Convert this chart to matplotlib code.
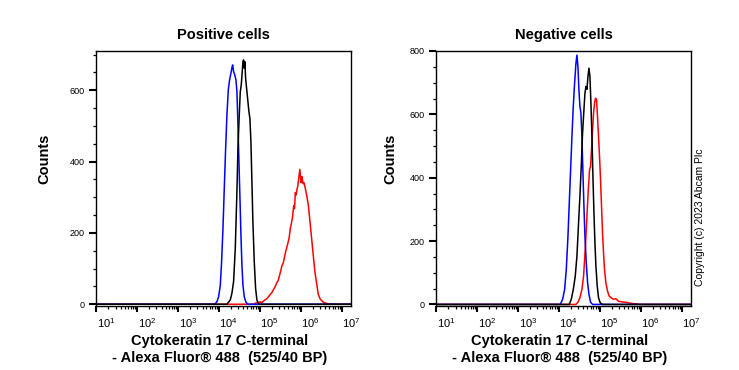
import numpy as np
import matplotlib
matplotlib.use("Agg")
import matplotlib.pyplot as plt
from matplotlib.ticker import MultipleLocator, FixedLocator, LogLocator, NullFormatter
from matplotlib.transforms import ScaledTranslation

plt.rcParams['font.family'] = ['Liberation Sans', 'DejaVu Sans']

# ---- data: histogram traces, x as log10(intensity), y as counts ----
# Positive cells
pos_blue_logx = [1.0, 3.90, 3.955, 3.996, 4.037, 4.069, 4.102, 4.134, 4.167, 4.199, 4.232,
                 4.264, 4.297, 4.321, 4.338, 4.362, 4.386, 4.419, 4.443, 4.468, 4.492,
                 4.517, 4.541, 4.565, 4.590, 4.622, 4.663, 4.703, 7.25]
pos_blue_counts = [0, 0, 7, 21, 54, 120, 213, 325, 437, 531, 601,
                   629, 648, 663, 671, 652, 645, 629, 596, 503, 400,
                   297, 194, 110, 54, 21, 6, 0, 0]

pos_black_logx = [1.0, 4.199, 4.281, 4.321, 4.362, 4.403, 4.443, 4.468, 4.500, 4.525, 4.549,
                  4.573, 4.590, 4.606, 4.622, 4.638, 4.655, 4.671, 4.703, 4.736, 4.760,
                  4.785, 4.809, 4.833, 4.866, 4.899, 4.931, 4.980, 7.25]
pos_black_counts = [0, 0, 12, 31, 64, 157, 316, 437, 531, 596, 615,
                    652, 680, 685, 662, 680, 634, 615, 578, 540, 521,
                    456, 344, 232, 120, 45, 12, 0, 0]

pos_red_logx = [1.0, 4.85, 4.90, 4.93, 4.97, 5.01, 5.05, 5.09, 5.13, 5.18, 5.22, 5.26, 5.30,
                5.34, 5.38, 5.42, 5.45, 5.48, 5.51, 5.54, 5.58, 5.61, 5.64, 5.66, 5.69,
                5.72, 5.75, 5.77, 5.80, 5.83, 5.85, 5.87, 5.89, 5.91, 5.93, 5.95, 5.98,
                6.00, 6.01, 6.03, 6.04, 6.06, 6.08, 6.11, 6.15, 6.19, 6.23, 6.27, 6.31,
                6.35, 6.40, 6.43, 6.48, 6.56, 6.64, 6.84, 7.25]
pos_red_counts = [0, 0, 3, 5, 2, 7, 4, 9, 12, 16, 22, 28, 33,
                  42, 50, 61, 66, 79, 92, 107, 118, 135, 150, 159, 172,
                  187, 215, 224, 243, 276, 268, 313, 306, 322, 331, 350, 378,
                  352, 341, 358, 350, 338, 341, 327, 304, 276, 229, 182, 135,
                  89, 51, 28, 14, 5, 2, 0, 0]

# Negative cells
neg_blue_logx = [1.0, 4.037, 4.093, 4.142, 4.183, 4.224, 4.256, 4.289, 4.321, 4.354, 4.386,
                 4.419, 4.443, 4.468, 4.492, 4.516, 4.541, 4.565, 4.590, 4.614, 4.639,
                 4.671, 4.704, 4.737, 4.776, 4.825, 7.25]
neg_blue_counts = [0, 0, 16, 47, 110, 215, 320, 425, 530, 625, 698,
                   761, 787, 750, 677, 625, 604, 530, 415, 310, 215,
                   131, 68, 32, 7, 0, 0]

neg_black_logx = [1.0, 4.256, 4.305, 4.354, 4.402, 4.443, 4.483, 4.516, 4.549, 4.581, 4.614,
                  4.639, 4.663, 4.688, 4.712, 4.737, 4.761, 4.785, 4.810, 4.834, 4.859,
                  4.883, 4.907, 4.939, 4.971, 5.012, 5.069, 7.25]
neg_black_counts = [0, 0, 16, 47, 89, 152, 257, 341, 436, 541, 614,
                    667, 688, 679, 719, 746, 719, 635, 530, 404, 289,
                    194, 121, 58, 21, 5, 0, 0]

neg_red_logx = [1.0, 4.419, 4.468, 4.516, 4.565, 4.605, 4.646, 4.688, 4.720, 4.752, 4.776,
                4.800, 4.825, 4.849, 4.873, 4.898, 4.922, 4.946, 4.971, 4.995, 5.020,
                5.044, 5.069, 5.093, 5.117, 5.151, 5.191, 5.232, 5.281, 5.337, 5.395,
                5.459, 5.541, 5.622, 5.703, 5.785, 5.866, 5.988, 7.25]
neg_red_counts = [0, 0, 7, 21, 47, 89, 173, 278, 362, 425, 436,
                  488, 551, 604, 635, 651, 646, 593, 530, 467, 394,
                  310, 226, 163, 110, 68, 42, 26, 21, 16, 18,
                  10, 8, 7, 5, 3, 2, 0, 0]

titles = ["Positive cells", "Negative cells"]
xlabel = "Cytokeratin 17 C-terminal\n- Alexa Fluor\u00ae 488  (525/40 BP)"
decades = [1, 2, 3, 4, 5, 6, 7]
pos_yticks = [0, 200, 400, 600]
neg_yticks = [0, 200, 400, 600, 800]

panels = [
    (titles[0], pos_yticks, (-5, 710),
     [(pos_red_logx, pos_red_counts, '#ff0000'),
      (pos_blue_logx, pos_blue_counts, '#0000ff'),
      (pos_black_logx, pos_black_counts, '#000000')]),
    (titles[1], neg_yticks, (-5, 800),
     [(neg_red_logx, neg_red_counts, '#ff0000'),
      (neg_blue_logx, neg_blue_counts, '#0000ff'),
      (neg_black_logx, neg_black_counts, '#000000')]),
]

fig = plt.figure(figsize=(7.39, 3.70), dpi=100)
lefts = [96 / 739, 436 / 739]
ylab_x = [-52 / 255, -46 / 255]

for i, (title, yt, ylim, traces) in enumerate(panels):
    ax = fig.add_axes([lefts[i], 1 - 306 / 370, 255 / 739, 255 / 370])
    for lx, cnt, col in traces:
        ax.plot(10 ** np.array(lx), cnt, color=col, lw=1.1)
    ax.set_xscale('log')
    ax.set_xlim(10, 10 ** 7.23)
    ax.set_ylim(*ylim)

    for sp in ax.spines.values():
        sp.set_linewidth(1.0)

    ax.xaxis.set_major_locator(FixedLocator([10 ** d for d in decades]))
    ax.xaxis.set_minor_locator(LogLocator(base=10, subs=np.arange(2, 10), numticks=20))
    ax.xaxis.set_minor_formatter(NullFormatter())
    ax.set_xticklabels([r'$\mathregular{10^{%d}}$' % d for d in decades])
    ax.set_yticks(yt)
    ax.yaxis.set_minor_locator(MultipleLocator(50))

    ax.tick_params(axis='both', which='major', direction='out', width=1.5, color='black')
    ax.tick_params(axis='x', which='major', length=4, pad=3, labelsize=8)
    ax.tick_params(axis='y', which='major', length=5, pad=3, labelsize=6.5)
    ax.tick_params(axis='x', which='minor', direction='out', length=2.5, width=0.9)
    ax.tick_params(axis='y', which='minor', direction='out', length=2.5, width=0.9)
    ax.tick_params(top=False, right=False, which='both')

    offset = ScaledTranslation(0.5 / 72, 0, fig.dpi_scale_trans)
    for lab in ax.get_xticklabels():
        lab.set_horizontalalignment('left')
        lab.set_transform(lab.get_transform() + offset)

    ax.set_title(title, fontsize=10.5, fontweight='bold', pad=8.4)
    ax.set_xlabel(xlabel, fontsize=10.5, fontweight='bold', linespacing=1.3)
    ax.xaxis.set_label_coords(0.486, -0.108)
    ax.set_ylabel("Counts", fontsize=10.5, fontweight='bold')
    ax.yaxis.label.set_va('center')
    ax.yaxis.set_label_coords(ylab_x[i], 0.576)

fig.text(700 / 739, 1 - 217 / 370, "Copyright (c) 2023 Abcam Plc", rotation=90,
         ha='center', va='center', fontsize=7.5)

fig.savefig("out.png", dpi=100)
